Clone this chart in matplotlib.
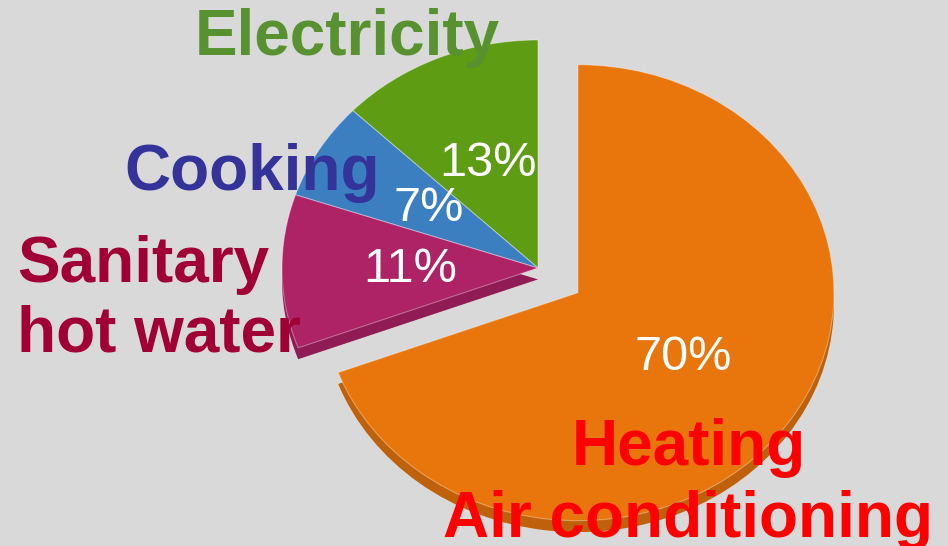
import matplotlib.pyplot as plt
import matplotlib.colors as mcolors

# data (counter-clockwise from 12 o'clock)
categories = ["Electricity", "Cooking", "Sanitary hot water", "Heating / Air conditioning"]
shares = [13, 7, 11, 70]
explode = [0, 0, 0, 0.19]
slice_colors = ["#5e9c14", "#3b7fc0", "#ae2266", "#e8760c"]

BG = "#d9d9d9"
W, H = 948, 546
THICK = 0.05   # pie depth, in radius units


def darker(c, f=0.82):
    r, g, b = mcolors.to_rgb(c)
    return (r * f, g * f, b * f)


def px(x, y):
    # pixel position (from top-left) -> figure fraction
    return x / W, 1 - y / H


fig = plt.figure(figsize=(W / 100, H / 100), dpi=100, facecolor=BG)
ax = fig.add_axes([0, 0, 1, 1])
ax.set_facecolor(BG)

# side of the disc (only the front slices show it), drawn a little lower first
side_colors = ["none", "none", darker(slice_colors[2]), darker(slice_colors[3])]
ax.pie(shares, explode=explode, colors=side_colors,
       startangle=90, counterclock=True, center=(0, -THICK),
       wedgeprops=dict(linewidth=0))
# top of the disc
wedges, texts, autotexts = ax.pie(
    shares, explode=explode, colors=slice_colors, startangle=90,
    counterclock=True, center=(0, 0), autopct="%d%%", pctdistance=0.5,
    wedgeprops=dict(linewidth=0.8, edgecolor=(1, 1, 1, 0.35)),
    textprops=dict(color="white", fontsize=35, family="Liberation Sans"))
for t, v in zip(autotexts, shares):
    t.set_text(f"{v}%")

# ellipse look: 1 unit = 256 px across, 228 px down
ax.set_aspect("auto")
ax.set_xlim(-538 / 256, (W - 538) / 256)
ax.set_ylim(-(H - 268) / 228, 268 / 228)
ax.axis("off")

lab = dict(family="Liberation Sans", fontweight="bold", fontsize=46, va="baseline", zorder=10)
fig.text(*px(347, 55), "Electricity", color="#589230", ha="center", **lab)
fig.text(*px(124, 190), "Cooking", color="#333399", ha="left", **lab)
fig.text(*px(17, 282), "Sanitary", color="#a00034", ha="left", **lab)
fig.text(*px(17, 352), "hot water", color="#a00034", ha="left", **lab)
fig.text(*px(689, 465), "Heating", color="#ff0000", ha="center", **lab)
fig.text(*px(688, 537), "Air conditioning", color="#ff0000", ha="center", **lab)

fig.savefig("out.png", dpi=100, facecolor=BG)
